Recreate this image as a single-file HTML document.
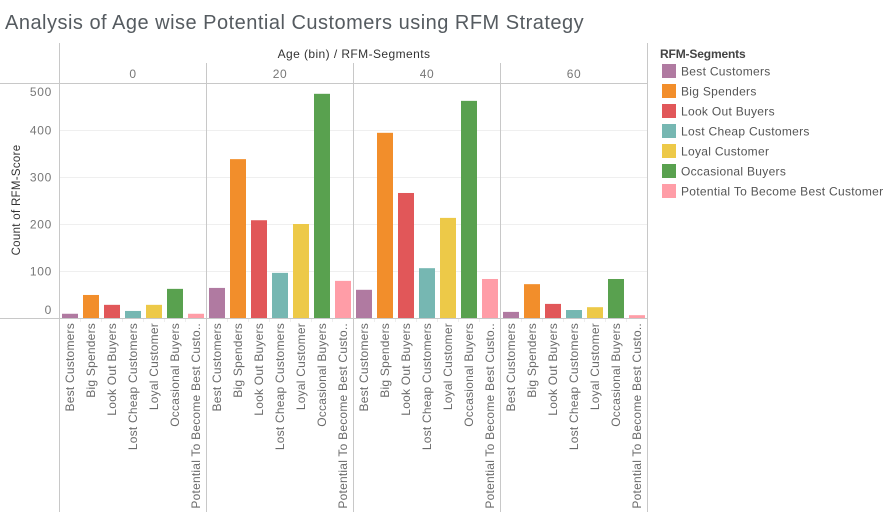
<!DOCTYPE html>
<html lang="en">
<head>
<meta charset="utf-8">
<title>Analysis of Age wise Potential Customers using RFM Strategy</title>
<style>
html,body{margin:0;padding:0;background:#fff;}
body{width:887px;height:512px;overflow:hidden;}
svg{display:block;font-family:"Liberation Sans",sans-serif;}
</style>
</head>
<body>
<svg id="chart" width="887" height="512" viewBox="0 0 887 512" xmlns="http://www.w3.org/2000/svg">
<text x="5" y="29" font-size="20" letter-spacing="0.49" fill="#555b60">Analysis of Age wise Potential Customers using RFM Strategy</text>
<text x="354" y="58" font-size="12" letter-spacing="0.42" text-anchor="middle" fill="#333">Age (bin)  /  RFM-Segments</text>
<text transform="translate(20,200) rotate(-90)" font-size="11.5" letter-spacing="0.3" text-anchor="middle" fill="#333">Count of RFM-Score</text>
<text x="660" y="58" font-size="12" letter-spacing="-0.15" font-weight="bold" fill="#444">RFM-Segments</text>
<g id="grid"></g>
<g id="bars"></g>
<g id="frame"></g>
<g id="labels"></g>
<g id="legend"></g>
</svg>
<script>
const ageBins = ['0', '20', '40', '60'];
const segments = ['Best Customers', 'Big Spenders', 'Look Out Buyers', 'Lost Cheap Customers', 'Loyal Customer', 'Occasional Buyers', 'Potential To Become Best Customer'];
const axisLabels = ['Best Customers', 'Big Spenders', 'Look Out Buyers', 'Lost Cheap Customers', 'Loyal Customer', 'Occasional Buyers', 'Potential To Become Best Custo..'];
const colors = ['#b07aa1', '#f28e2b', '#e15759', '#76b7b2', '#edc948', '#59a14f', '#ff9da7'];
const age0 = [9, 49, 28, 15, 28, 62, 9];
const age20 = [64, 338, 208, 96, 200, 477, 79];
const age40 = [60, 394, 266, 106, 213, 462, 83];
const age60 = [13, 72, 30, 17, 23, 83, 6];
const yTicks = [0, 100, 200, 300, 400, 500];

const series = [age0, age20, age40, age60];
const svgNS = 'http://www.w3.org/2000/svg';
const paneLeft = 59.5, paneWidth = 147, plotTop = 83, plotBottom = 318, pxPer100 = 47;
const y = v => plotBottom - v * pxPer100 / 100;
const paneX = p => paneLeft + p * paneWidth;
const bandStep = 21, barWidth = 16;
const barX = (p, i) => paneX(p) + 2.5 + i * bandStep;

function mk(parent, tag, attrs, text) {
  const el = document.createElementNS(svgNS, tag);
  for (const k in attrs) el.setAttribute(k, attrs[k]);
  if (text !== undefined) el.textContent = text;
  document.getElementById(parent).appendChild(el);
  return el;
}

yTicks.forEach(t => {
  if (t > 0 && t < 500) {
    const g = mk('grid', 'line', {x1: paneLeft, x2: 647, y1: y(t) + 0.5, y2: y(t) + 0.5, stroke: '#efefef', 'stroke-width': 1});
    
    
  }
  const ly = Math.max(plotTop + 13, Math.min(plotBottom - 4, y(t) + 4.5));
  const lab = mk('labels', 'text', {x: 52, y: ly, 'text-anchor': 'end', 'font-size': 12, 'letter-spacing': 0.7, fill: '#777'}, String(t));
  
  
});

series.forEach((vals, p) => {
  vals.forEach((v, i) => {
    const r = mk('bars', 'rect', {x: barX(p, i), y: y(v), width: barWidth, height: plotBottom - y(v), fill: colors[i]});
    
    
    const cx = barX(p, i) + barWidth / 2 + 4;
    const t = mk('labels', 'text', {transform: 'translate(' + cx + ',323) rotate(-90)', 'text-anchor': 'end', 'font-size': 12, 'letter-spacing': 0.22, fill: '#6b6b6b'}, axisLabels[i]);
    
    
    if (i > 0) {
      const tick = mk('grid', 'line', {x1: barX(p, i) - 2.5, x2: barX(p, i) - 2.5, y1: 318, y2: 322, stroke: '#eeeeee'});
      
      
    }
  });
  const h = mk('labels', 'text', {x: paneX(p) + paneWidth / 2, y: 78, 'text-anchor': 'middle', 'font-size': 12, 'letter-spacing': 0.6, fill: '#777'}, ageBins[p]);
  
  
});

const rule = (name, x1, y1, x2, y2) => {
  const l = mk('frame', 'line', {x1, y1, x2, y2, stroke: '#c8c8c8', 'stroke-width': 1});
  
  
};
rule('header-bottom-rule', 0, 83.5, 647, 83.5);
rule('x-axis-baseline', 0, 318.5, 647, 318.5);
rule('left-pane-border', 59.5, 43, 59.5, 512);
rule('right-pane-border', 647.5, 43, 647.5, 512);
[1, 2, 3].forEach(p => rule('pane-divider-' + p, paneX(p), 63, paneX(p), 512));

segments.forEach((s, i) => {
  const top = 64 + i * 20;
  const sw = mk('legend', 'rect', {x: 662, y: top, width: 14, height: 14, fill: colors[i]});
  
  
  const t = mk('legend', 'text', {x: 681, y: top + 11.5, 'font-size': 12, 'letter-spacing': 0.3, fill: '#555'}, s);
  
  
});
</script>
</body>
</html>
